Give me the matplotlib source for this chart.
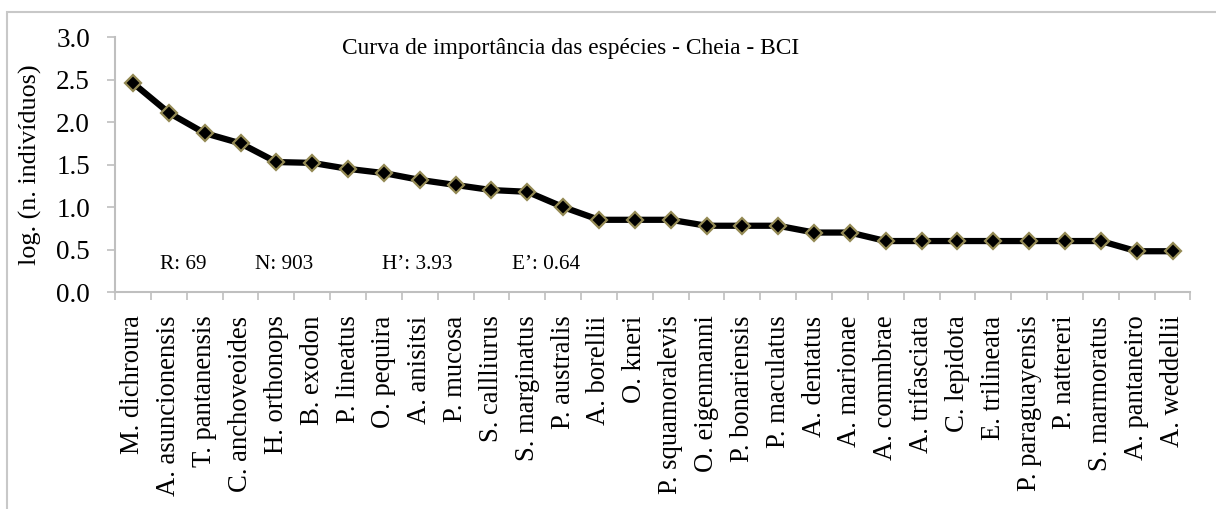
import matplotlib.pyplot as plt
import numpy as np
from matplotlib.patches import Rectangle

species = ['M. dichroura', 'A. asuncionensis', 'T. pantanensis', 'C. anchoveoides',
           'H. orthonops', 'B. exodon', 'P. lineatus', 'O. pequira', 'A. anisitsi',
           'P. mucosa', 'S. callliurus', 'S. marginatus', 'P. australis', 'A. borellii',
           'O. kneri', 'P. squamoralevis', 'O. eigenmanni', 'P. bonariensis',
           'P. maculatus', 'A. dentatus', 'A. marionae', 'A. commbrae', 'A. trifasciata',
           'C. lepidota', 'E. trilineata', 'P. paraguayensis', 'P. nattereri',
           'S. marmoratus', 'A. pantaneiro', 'A. weddellii']
log_n = [2.46, 2.11, 1.87, 1.75, 1.53, 1.52, 1.45, 1.40, 1.32, 1.26,
         1.20, 1.18, 1.00, 0.85, 0.85, 0.85, 0.78, 0.78, 0.78, 0.70,
         0.70, 0.60, 0.60, 0.60, 0.60, 0.60, 0.60, 0.60, 0.48, 0.48]
stats = ['R: 69', 'N: 903', 'H\u2019: 3.93', 'E\u2019: 0.64']
stats_x = [0.75, 3.4, 6.95, 10.57]

plt.rcParams['font.family'] = 'Liberation Serif'
plt.rcParams['font.size'] = 17

fig = plt.figure(figsize=(12.16, 5.09), dpi=100)
ax = fig.add_axes([0.0946, 0.4263, 0.8844, 0.5007])

x = np.arange(len(species))
ax.plot(x, log_n, color='black', lw=4.5, marker='D', markersize=8,
        markerfacecolor='black', markeredgecolor='#948a54', markeredgewidth=1.6)

ax.set_xlim(-0.5, len(species) - 0.5)
ax.set_ylim(0, 3.0)
ax.set_yticks(np.arange(0, 3.01, 0.5))
ax.set_yticklabels(['%.1f' % v for v in np.arange(0, 3.01, 0.5)], fontsize=19.5)
ax.set_xticks(x)
ax.set_xticklabels(species, rotation=90, fontsize=19.2)
ax.set_xticks(np.arange(-0.5, len(species), 1), minor=True)
ax.tick_params(axis='x', which='major', length=0, pad=17)
ax.tick_params(axis='x', which='minor', length=6, width=1.2, color='#bfbfbf')
ax.tick_params(axis='y', length=6, width=1.2, color='#bfbfbf', pad=12)

for s in ['top', 'right']:
    ax.spines[s].set_visible(False)
for s in ['left', 'bottom']:
    ax.spines[s].set_color('#bfbfbf')
    ax.spines[s].set_linewidth(1.5)

ax.set_ylabel('log. (n. indivíduos)', fontsize=18.8, labelpad=10)
ax.text(0.424, 0.957, 'Curva de importância das espécies - Cheia - BCI',
        transform=ax.transAxes, ha='center', va='center', fontsize=16.8)
for lbl, xi in zip(stats, stats_x):
    ax.text(xi, 0.32, lbl, ha='left', va='center', fontsize=15.3)

fig.add_artist(Rectangle((7 / 1216, -0.1), 1.2, 1 - 12 / 509 + 0.1,
                         transform=fig.transFigure, fill=False,
                         edgecolor='#c8c8c8', lw=1.5))

fig.savefig('out.png', dpi=100)
